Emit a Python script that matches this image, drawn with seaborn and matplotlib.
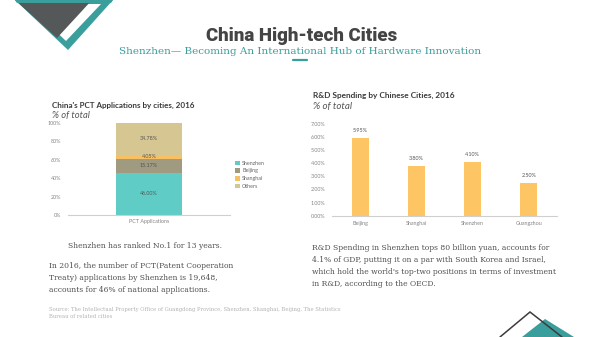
import numpy as np
import pandas as pd
import matplotlib
matplotlib.use("Agg")
import matplotlib.pyplot as plt
import seaborn as sns
from matplotlib.patches import Polygon, Patch
from matplotlib.ticker import FuncFormatter

# ---------------- data ----------------
pct_category = "PCT Applications"
pct_cities = ["Shenzhen", "Beijing", "Shanghai", "Others"]
pct_values = [46.00, 15.17, 4.05, 34.78]
pct_colors = ["#5fcdc6", "#a09a80", "#f7c062", "#d6c692"]
pct_yticks = [0, 20, 40, 60, 80, 100]

rd_cities = ["Beijing", "Shanghai", "Shenzhen", "Guangzhou"]
rd_values = [5.95, 3.80, 4.10, 2.50]
rd_yticks = [0, 1, 2, 3, 4, 5, 6, 7]

title = "China High-tech Cities"
subtitle = "Shenzhen\u2014 Becoming An International Hub of Hardware Innovation"
left_title = "China's PCT Applications by cities, 2016"
right_title = "R&D Spending by Chinese Cities, 2016"
unit = "% of total"
left_lead = "Shenzhen has ranked No.1 for 13 years."
left_para = ["In 2016, the number of PCT(Patent Cooperation",
             "Treaty) applications by Shenzhen is 19,648,",
             "accounts for 46% of national applications."]
right_para = ["R&D Spending in Shenzhen tops 80 billion yuan, accounts for",
              "4.1% of GDP, putting it on a par with South Korea and Israel,",
              "which hold the world's top-two positions in terms of investment",
              "in R&D, according to the OECD."]
source = ["Source: The Intellectual Property Office of Guangdong Province, Shenzhen, Shanghai, Beijing, The Statistics",
          "Bureau of related cities"]

# ---------------- style ----------------
sns.set_theme(style="white")
plt.rcParams["font.family"] = ["Lato", "DejaVu Sans"]

W, H = 600, 337
fig = plt.figure(figsize=(W / 100, H / 100), dpi=100)
fig.patch.set_facecolor("white")

overlay = fig.add_axes([0, 0, 1, 1], zorder=0)
overlay.set_xlim(0, W)
overlay.set_ylim(H, 0)
overlay.axis("off")

TEAL = "#3a9e9c"
DARK = "#555858"
renderer = fig.canvas.get_renderer()


def fit(t, width):
    bb = t.get_window_extent(renderer)
    t.set_fontsize(t.get_fontsize() * width / bb.width)
    return t


# decorations (top-left)
overlay.add_patch(Polygon([(15, 0), (113, 0), (68, 50)], closed=True, color=TEAL, lw=0))
overlay.add_patch(Polygon([(27, 4), (101, 4), (66, 41)], closed=True, color="white", lw=0))
overlay.add_patch(Polygon([(15, 0), (92, 0), (57, 38)], closed=True, color=DARK, lw=0))
overlay.add_patch(Polygon([(15, 0), (113, 0), (111, 3), (17, 3)], closed=True, color=TEAL, lw=0))

# decorations (bottom-right)
overlay.add_patch(Polygon([(522, H), (545, 319), (574, H)], closed=True, color=TEAL, lw=0))
overlay.plot([500, 530, 562], [H, 312, H], color="#3c3c3c", lw=1.1, solid_joinstyle="miter")

# header
t = overlay.text(301.5, 36, title, ha="center", va="center", fontsize=14,
                 fontweight="black", color="#444444", family=["Roboto", "DejaVu Sans"])
fit(t, 193)
t = overlay.text(299.6, 52, subtitle, ha="center", va="center", fontsize=8,
                 color=TEAL, family=["DejaVu Serif"])
fit(t, 364)
overlay.plot([293, 307], [60, 60], color=TEAL, lw=1.6)

# chart titles
t = overlay.text(52, 105, left_title, ha="left", va="center", fontsize=6,
                 fontweight="bold", color="#3a3a3a")
fit(t, 142)
overlay.text(52, 115.5, unit, ha="left", va="center", fontsize=t.get_fontsize() * 1.18,
             style="italic", color="#555555")
t = overlay.text(313.3, 95, right_title, ha="left", va="center", fontsize=6,
                 fontweight="bold", color="#3a3a3a")
fit(t, 143)
overlay.text(313.3, 106.5, unit, ha="left", va="center", fontsize=t.get_fontsize() * 1.18,
             style="italic", color="#555555")

# body text
t = overlay.text(312, 271.5, right_para[2], ha="left", va="center", fontsize=6,
                 color="#505050", family=["DejaVu Serif"])
fit(t, 247)
body_fs = t.get_fontsize()
for line, y in zip([right_para[0], right_para[1], right_para[3]], [247.5, 259.5, 283.5]):
    overlay.text(312, y, line, ha="left", va="center", fontsize=body_fs,
                 color="#505050", family=["DejaVu Serif"])
overlay.text(68, 246, left_lead, ha="left", va="center", fontsize=body_fs,
             color="#505050", family=["DejaVu Serif"])
for line, y in zip(left_para, [266.5, 278.5, 290]):
    overlay.text(49, y, line, ha="left", va="center", fontsize=body_fs,
                 color="#505050", family=["DejaVu Serif"])
t = overlay.text(49, 309, source[0], ha="left", va="center", fontsize=4,
                 color="#b3b3b3", family=["DejaVu Serif"])
fit(t, 286)
overlay.text(49, 317, source[1], ha="left", va="center", fontsize=t.get_fontsize(),
             color="#b3b3b3", family=["DejaVu Serif"])


def px_axes(x0, y0, x1, y1):
    return fig.add_axes([x0 / W, 1 - y1 / H, (x1 - x0) / W, (y1 - y0) / H], zorder=2)


TICK_FS = 3.9
TICK_C = "#858585"

# ---------------- left: stacked PCT bar ----------------
axl = px_axes(68, 122.7, 230, 215)
cum = np.cumsum(pct_values)
for i in range(len(pct_values) - 1, -1, -1):
    df = pd.DataFrame({"cat": [pct_category], "val": [cum[i]]})
    sns.barplot(data=df, x="cat", y="val", color=pct_colors[i], saturation=1,
                width=0.405, ax=axl, linewidth=0)
for i, v in enumerate(pct_values):
    mid = cum[i] - v / 2
    axl.text(0, mid, f"{v:.2f}%", ha="center", va="center", fontsize=TICK_FS, color="#555555")
axl.set_ylim(0, 100)
axl.set_yticks(pct_yticks)
axl.yaxis.set_major_formatter(FuncFormatter(lambda v, p: f"{v:.0f}%"))
axl.set_xlabel("")
axl.set_ylabel("")
axl.tick_params(axis="both", length=0, labelsize=TICK_FS, labelcolor=TICK_C)
axl.tick_params(axis="y", pad=5)
axl.tick_params(axis="x", pad=3)
for s in ["top", "right", "left"]:
    axl.spines[s].set_visible(False)
axl.spines["bottom"].set_color("#cfcfcf")
axl.spines["bottom"].set_linewidth(0.8)
axl.set_facecolor("none")
handles = [Patch(facecolor=c, edgecolor="none", label=n) for n, c in zip(pct_cities, pct_colors)]
axl.legend(handles=handles, loc="upper left", bbox_to_anchor=(235 / W, 1 - 160.5 / H),
           bbox_transform=fig.transFigure, frameon=False, fontsize=TICK_FS,
           handlelength=0.9, handleheight=0.9, handletextpad=0.4, labelspacing=0.5,
           labelcolor="#666666", borderpad=0, borderaxespad=0)

# ---------------- right: R&D bars ----------------
axr = px_axes(332, 123.7, 557, 215.7)
rd_df = pd.DataFrame({"city": rd_cities, "value": rd_values})
sns.barplot(data=rd_df, x="city", y="value", color="#fdc564", saturation=1,
            width=0.3, ax=axr, linewidth=0)
for i, v in enumerate(rd_values):
    axr.annotate(f"{v:.2f}%", (i, v), xytext=(0, 3.5), textcoords="offset points",
                 ha="center", va="bottom", fontsize=TICK_FS, color="#555555")
axr.set_ylim(0, 7)
axr.set_yticks(rd_yticks)
axr.yaxis.set_major_formatter(FuncFormatter(lambda v, p: f"{v:.2f}%"))
axr.set_xlabel("")
axr.set_ylabel("")
axr.tick_params(axis="both", length=0, labelsize=TICK_FS, labelcolor=TICK_C)
axr.tick_params(axis="y", pad=5)
axr.tick_params(axis="x", pad=4)
for s in ["top", "right", "left"]:
    axr.spines[s].set_visible(False)
axr.spines["bottom"].set_color("#cfcfcf")
axr.spines["bottom"].set_linewidth(0.8)
axr.set_facecolor("none")

fig.savefig("out.png", dpi=100, facecolor="white")
